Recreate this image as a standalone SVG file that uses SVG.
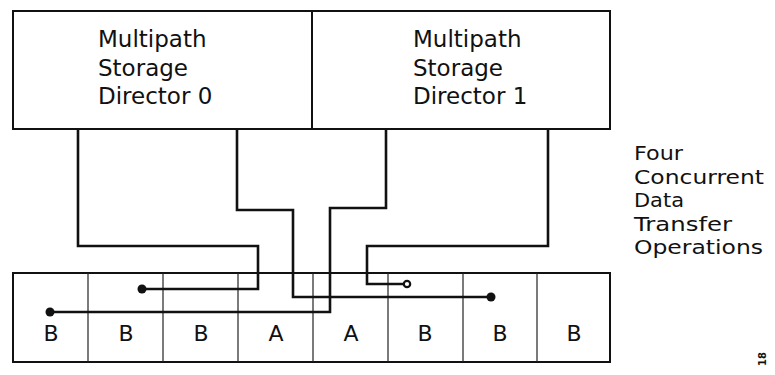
<svg xmlns="http://www.w3.org/2000/svg" width="775" height="375" viewBox="0 0 775 375">
<style>
.box{fill:#fff;stroke:#111;stroke-width:2}
.cell{stroke:#222;stroke-width:1.2}
.wire{fill:none;stroke:#111;stroke-width:2.6;stroke-linejoin:miter}
.dot{fill:#111}
.t{font-family:"DejaVu Sans",Verdana,sans-serif;font-size:23px;fill:#111}
.r{font-family:"DejaVu Sans",Verdana,sans-serif;font-size:20px;fill:#111}
.c{font-family:"DejaVu Sans",Verdana,sans-serif;font-size:22px;fill:#111;text-anchor:middle}
.fig{font-family:"DejaVu Sans",sans-serif;font-size:10px;font-weight:bold;fill:#111}
</style>
<rect width="775" height="375" fill="#fff"/>
<g id="director0">
<rect class="box" x="13" y="11" width="299" height="118"/>
<text class="t" x="98" y="47">Multipath</text>
<text class="t" x="98" y="75.5">Storage</text>
<text class="t" x="98" y="104">Director 0</text>
</g>
<g id="director1">
<rect class="box" x="312" y="11" width="298" height="118"/>
<text class="t" x="413" y="47">Multipath</text>
<text class="t" x="413" y="75.5">Storage</text>
<text class="t" x="413" y="104">Director 1</text>
</g>
<g id="devices">
<rect class="box" x="13" y="273" width="597" height="89"/>
<line class="cell" x1="88" y1="273" x2="88" y2="362"/>
<line class="cell" x1="163" y1="273" x2="163" y2="362"/>
<line class="cell" x1="238" y1="273" x2="238" y2="362"/>
<line class="cell" x1="313" y1="273" x2="313" y2="362"/>
<line class="cell" x1="388" y1="273" x2="388" y2="362"/>
<line class="cell" x1="463" y1="273" x2="463" y2="362"/>
<line class="cell" x1="537" y1="273" x2="537" y2="362"/>
<text class="c" x="51" y="341">B</text>
<text class="c" x="126" y="341">B</text>
<text class="c" x="201" y="341">B</text>
<text class="c" x="276" y="341">A</text>
<text class="c" x="351" y="341">A</text>
<text class="c" x="425" y="341">B</text>
<text class="c" x="500" y="341">B</text>
<text class="c" x="574" y="341">B</text>
</g>
<g id="connectors">
<polyline class="wire" points="78,129 78,246 258,246 258,289 142,289"/>
<circle class="dot" cx="142" cy="289" r="4.5"/>
<polyline class="wire" points="237,129 237,210 293,210 293,297 491,297"/>
<circle class="dot" cx="491" cy="297" r="4.5"/>
<polyline class="wire" points="386,129 386,208 330,208 330,312 50,312"/>
<circle class="dot" cx="50" cy="312" r="4.5"/>
<polyline class="wire" points="548,129 548,246 367,246 367,284 405,284"/>
<circle cx="407" cy="284" r="3.2" fill="#fff" stroke="#111" stroke-width="2.2"/>
</g>
<g id="caption">
<text class="r" x="634" y="160" textLength="49" lengthAdjust="spacingAndGlyphs">Four</text>
<text class="r" x="634" y="183.5" textLength="130" lengthAdjust="spacingAndGlyphs">Concurrent</text>
<text class="r" x="634" y="207" textLength="50" lengthAdjust="spacingAndGlyphs">Data</text>
<text class="r" x="634" y="230.5" textLength="98" lengthAdjust="spacingAndGlyphs">Transfer</text>
<text class="r" x="634" y="254" textLength="129" lengthAdjust="spacingAndGlyphs">Operations</text>
</g>
<text class="fig" transform="translate(766,366) rotate(-90)">18</text>
</svg>
